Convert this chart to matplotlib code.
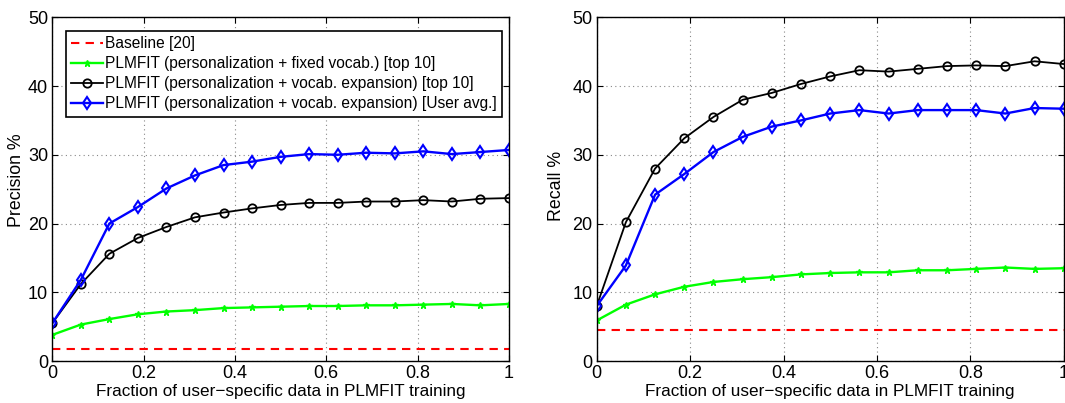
import matplotlib
matplotlib.use("Agg")
import matplotlib.pyplot as plt
import numpy as np

plt.rcParams['font.family'] = ['Liberation Sans', 'DejaVu Sans']

fraction = [i / 16 for i in range(17)]

prec_baseline = 1.8
prec_fixed = [3.8, 5.3, 6.1, 6.8, 7.2, 7.4, 7.7, 7.8, 7.9, 8.0, 8.0, 8.1, 8.1, 8.2, 8.3, 8.1, 8.3]
prec_expand = [5.5, 11.2, 15.6, 17.9, 19.5, 20.9, 21.6, 22.2, 22.7, 23.0, 23.0, 23.2, 23.2, 23.4, 23.2, 23.6, 23.7]
prec_user = [5.5, 11.8, 20.0, 22.4, 25.1, 27.0, 28.5, 29.0, 29.7, 30.1, 30.0, 30.3, 30.2, 30.5, 30.1, 30.4, 30.7]

rec_baseline = 4.5
rec_fixed = [5.9, 8.2, 9.7, 10.8, 11.5, 11.9, 12.2, 12.6, 12.8, 12.9, 12.9, 13.2, 13.2, 13.4, 13.6, 13.4, 13.5]
rec_expand = [8.0, 20.2, 28.0, 32.4, 35.5, 38.0, 39.0, 40.3, 41.4, 42.3, 42.1, 42.5, 42.9, 43.0, 42.9, 43.6, 43.2]
rec_user = [8.0, 13.9, 24.2, 27.2, 30.4, 32.6, 34.1, 35.0, 36.0, 36.5, 36.0, 36.5, 36.5, 36.5, 36.0, 36.8, 36.7]

labels = ["Baseline [20]",
          "PLMFIT (personalization + fixed vocab.) [top 10]",
          "PLMFIT (personalization + vocab. expansion) [top 10]",
          "PLMFIT (personalization + vocab. expansion) [User avg.]"]
xticks = [0, 0.2, 0.4, 0.6, 0.8, 1]
xticklabels = ["0", "0.2", "0.4", "0.6", "0.8", "1"]
yticks = [0, 10, 20, 30, 40, 50]

fig = plt.figure(figsize=(10.65, 4.03), dpi=100)
ax1 = fig.add_axes([0.0491, 0.1042, 0.4288, 0.8529])
ax2 = fig.add_axes([0.5603, 0.1042, 0.4385, 0.8529])


def draw(ax, base, fixed, expand, user, ylabel, legend, lab_xy):
    ax.plot([0, 1], [base, base], '--', color='#ff0000', lw=1.5, dashes=(4, 3), label=labels[0])
    ax.plot(fraction, fixed, '-', color='#00ff00', lw=1.7, marker='*', ms=5,
            mfc='#00ff00', mec='#00ff00', label=labels[1])
    ax.plot(fraction, expand, '-', color='black', lw=1.3, marker='o', ms=6,
            mfc='none', mec='black', mew=1.3, label=labels[2])
    ax.plot(fraction, user, '-', color='#0000ff', lw=1.7, marker='d', ms=6.5,
            mfc='none', mec='#0000ff', mew=1.5, label=labels[3])
    ax.set_xlim(0, 1)
    ax.set_ylim(0, 50)
    ax.set_xticks(xticks)
    ax.set_xticklabels(xticklabels)
    ax.set_yticks(yticks)
    ax.tick_params(direction='in', top=True, right=True, labelsize=13, length=4, pad=3)
    ax.grid(True, linestyle=(0, (1, 3)), color='#888888', lw=0.8)
    ax.set_xlabel("Fraction of user\u2212specific data in PLMFIT training", fontsize=12.3, labelpad=1)
    ax.set_ylabel(ylabel, fontsize=12.8)
    ax.yaxis.set_label_coords(*lab_xy)
    for s in ax.spines.values():
        s.set_linewidth(1.0)
    if legend:
        leg = ax.legend(loc='upper left', bbox_to_anchor=(0.03, 0.96), fontsize=11.2,
                        handlelength=2.0, handletextpad=0.15, numpoints=1, borderpad=0.35,
                        labelspacing=0.32, fancybox=False, framealpha=1, borderaxespad=0)
        leg.get_frame().set_edgecolor('black')
        leg.get_frame().set_linewidth(1.2)


draw(ax1, prec_baseline, prec_fixed, prec_expand, prec_user, "Precision %", True, (-0.06, 0.526))
draw(ax2, rec_baseline, rec_fixed, rec_expand, rec_user, "Recall %", False, (-0.068, 0.51))

fig.savefig("out.png", dpi=100)
